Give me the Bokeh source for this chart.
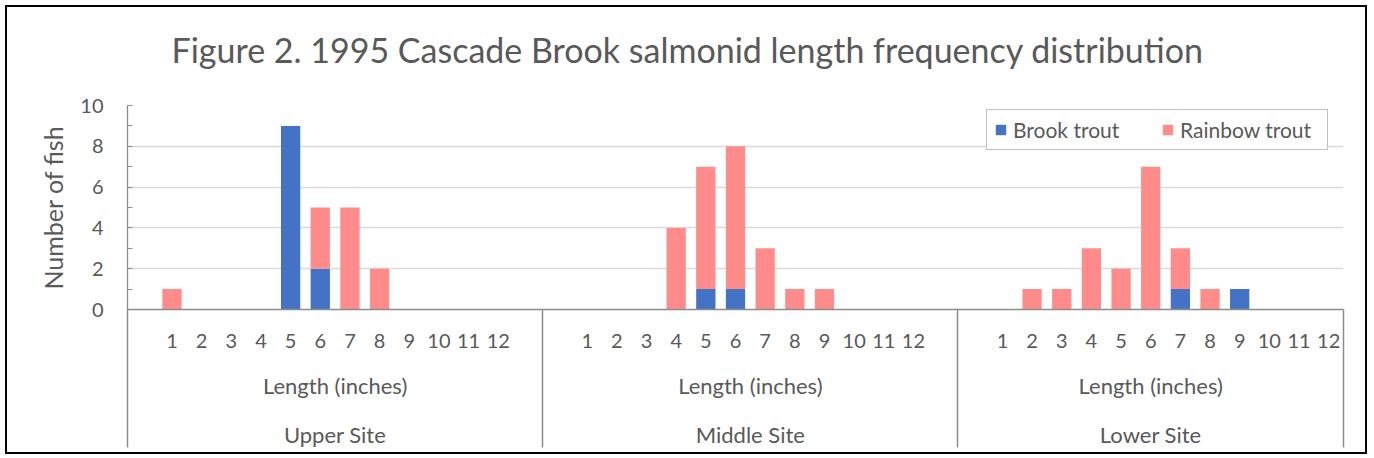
from bokeh.plotting import figure
from bokeh.models import Range1d, FixedTicker, LinearAxis, Legend, LegendItem, ColumnDataSource, Title
from bokeh.embed import file_html
from bokeh.resources import INLINE

# ---------------- data ----------------
title_text = "Figure 2. 1995 Cascade Brook salmonid length frequency distribution"
y_title = "Number of fish"
x_title = "Length (inches)"
sites = ["Upper Site", "Middle Site", "Lower Site"]
lengths = [1, 2, 3, 4, 5, 6, 7, 8, 9, 10, 11, 12]
series = ["Brook trout", "Rainbow trout"]

brook_upper = [0, 0, 0, 0, 9, 2, 0, 0, 0, 0, 0, 0]
rainbow_upper = [1, 0, 0, 0, 0, 3, 5, 2, 0, 0, 0, 0]
brook_middle = [0, 0, 0, 0, 1, 1, 0, 0, 0, 0, 0, 0]
rainbow_middle = [0, 0, 0, 4, 6, 7, 3, 1, 1, 0, 0, 0]
brook_lower = [0, 0, 0, 0, 0, 0, 1, 0, 1, 0, 0, 0]
rainbow_lower = [0, 1, 1, 3, 2, 7, 2, 1, 0, 0, 0, 0]

y_ticks = [0, 2, 4, 6, 8, 10]
y_minor = [1, 3, 5, 7, 9]

# ---------------- layout helpers ----------------
# category slots per site: a blank slot before lengths (and one after, except last site)
slots = [len(lengths) + 2, len(lengths) + 2, len(lengths) + 1]
starts = [sum(slots[:i]) for i in range(len(slots))]
total = sum(slots)
brook_all = [brook_upper, brook_middle, brook_lower]
rain_all = [rainbow_upper, rainbow_middle, rainbow_lower]

xs, bk, rb = [], [], []
label_map = {}
for s, o in enumerate(starts):
    for i, L in enumerate(lengths):
        xv = o + 1.5 + i
        xs.append(xv)
        bk.append(brook_all[s][i])
        rb.append(rain_all[s][i])
        label_map[xv] = str(L)
centers = [o + n / 2 for o, n in zip(starts, slots)]
seps = starts + [total]

src = ColumnDataSource(dict(x=xs, brook=bk, rainbow=rb))

FONT = "Lato"
TXT = "#595959"
AX = "#8c8c8c"
BLUE = "#4472C4"
PINK = "#FF8B8B"

p = figure(width=1362, height=449, x_range=Range1d(0, total), y_range=Range1d(0, 10),
           output_backend="svg", toolbar_location=None, x_axis_type=None,
           min_border_left=120, min_border_right=26, min_border_top=98, min_border_bottom=147,
           styles={"border": "2px solid #000000", "margin-left": "5px", "margin-top": "5px"})
p.outline_line_color = None
p.background_fill_color = "white"
p.border_fill_color = "white"

# title: a thin spacer next to the frame, then the title text above it
spacer = Title(text=" ", text_font_size="1px", standoff=26)
p.add_layout(spacer, "above")
main_title = Title(text=title_text, align="left", offset=44, vertical_align="top",
                   text_font=FONT, text_font_size="34px", text_font_style="normal",
                   text_color=TXT, standoff=10)
p.add_layout(main_title, "above")

# y axis
ya = p.yaxis[0]
ya.ticker = FixedTicker(ticks=y_ticks, minor_ticks=y_minor)
ya.axis_line_color = AX
ya.axis_line_width = 1.3
ya.major_tick_in = 5
ya.major_tick_out = 0
ya.minor_tick_in = 5
ya.minor_tick_out = 0
ya.major_tick_line_color = AX
ya.minor_tick_line_color = AX
ya.major_label_standoff = 24
ya.major_label_text_font = FONT
ya.major_label_text_font_size = "20px"
ya.major_label_text_color = TXT
ya.axis_label = y_title
ya.axis_label_text_font = FONT
ya.axis_label_text_font_size = "25px"
ya.axis_label_text_font_style = "normal"
ya.axis_label_text_color = TXT
ya.axis_label_standoff = 9

p.ygrid.ticker = FixedTicker(ticks=y_ticks)
p.ygrid.grid_line_color = "#d9d9d9"
p.ygrid.grid_line_width = 1.5

# bars
rs = p.vbar_stack(["brook", "rainbow"], x="x", width=0.65, color=[BLUE, PINK],
                  line_color=None, source=src)

# x axes (three levels); separators drawn as long minor ticks of the first level
SEP_LEN = 138
ax1 = LinearAxis(ticker=FixedTicker(ticks=xs, minor_ticks=seps),
                 major_label_overrides=label_map)
ax1.axis_line_color = AX
ax1.axis_line_width = 1.5
ax1.major_tick_in = 0
ax1.major_tick_out = 0
ax1.minor_tick_in = 0
ax1.minor_tick_out = SEP_LEN
ax1.minor_tick_line_color = AX
ax1.minor_tick_line_width = 1.5
ax1.major_label_standoff = 24 - SEP_LEN
ax1.major_label_text_font = FONT
ax1.major_label_text_font_size = "20px"
ax1.major_label_text_color = TXT
p.add_layout(ax1, "below")

ax2 = LinearAxis(ticker=FixedTicker(ticks=centers, minor_ticks=[]),
                 major_label_overrides={c: x_title for c in centers})
ax2.axis_line_color = None
ax2.major_tick_line_color = None
ax2.minor_tick_line_color = None
ax2.major_tick_out = 0
ax2.major_tick_in = 0
ax2.minor_tick_out = 0
ax2.minor_tick_in = 0
ax2.major_label_standoff = 21
ax2.major_label_text_font = FONT
ax2.major_label_text_font_size = "22px"
ax2.major_label_text_color = TXT
p.add_layout(ax2, "below")

ax3 = LinearAxis(ticker=FixedTicker(ticks=centers, minor_ticks=[]),
                 major_label_overrides={c: s for c, s in zip(centers, sites)})
ax3.axis_line_color = None
ax3.major_tick_line_color = None
ax3.minor_tick_line_color = None
ax3.major_tick_out = 0
ax3.major_tick_in = 0
ax3.minor_tick_out = 0
ax3.minor_tick_in = 0
ax3.major_label_standoff = 19
ax3.major_label_text_font = FONT
ax3.major_label_text_font_size = "22px"
ax3.major_label_text_color = TXT
p.add_layout(ax3, "below")

# legend
legend = Legend(items=[LegendItem(label=series[0], renderers=[rs[0]]),
                       LegendItem(label=series[1], renderers=[rs[1]])],
                orientation="horizontal", location=(859, 159))
legend.glyph_width = 13
legend.glyph_height = 13
legend.label_standoff = 6
legend.label_width = 140
legend.spacing = 8
legend.padding = 7
legend.label_text_font = FONT
legend.label_text_font_size = "21px"
legend.label_text_color = TXT
legend.border_line_color = "#7f7f7f"
legend.border_line_width = 1.5
legend.background_fill_alpha = 1.0
p.add_layout(legend)

open("out.html", "w").write(file_html(p, INLINE))
